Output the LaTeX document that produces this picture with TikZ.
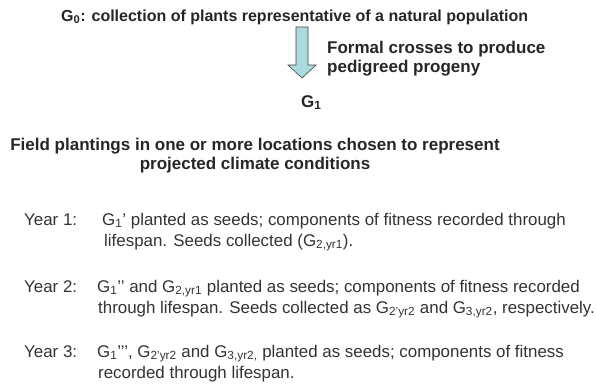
\documentclass[tikz,border=0pt]{standalone}
\usepackage{fontspec}
\setmainfont{Liberation Sans}
\usepackage{tikz}
\usetikzlibrary{positioning,calc}
\definecolor{arrowfill}{RGB}{170,220,222}
\definecolor{headtext}{RGB}{38,38,38}
\definecolor{bodytext}{RGB}{51,51,51}
\tikzset{
  head/.style={font=\fontsize{17}{20}\selectfont\bfseries, text=headtext,
    inner sep=0pt, anchor=base west},
  body/.style={font=\fontsize{16.9}{21}\selectfont, text=bodytext,
    inner sep=0pt, anchor=base west},
  blockarrow/.style={fill=arrowfill, draw=black!75, line width=0.6pt}
}
\newcommand{\gs}[1]{\textsubscript{#1}}
\begin{document}
\begin{tikzpicture}[x=1pt,y=-1pt]
  \useasboundingbox (0,0) rectangle (596,389);
  \node[head, font=\fontsize{16}{19}\selectfont\bfseries] (gzero) at (61,21)
    {G\gs{0}: collection of plants representative of a natural population};
  \coordinate (top) at (302,27);
  \coordinate (tip) at (302,78);
  \draw[blockarrow] ($(top)+(-6,0)$) -- ($(top)+(6,0)$) -- ($(tip)+(6,-13)$)
    -- ($(tip)+(14,-13)$) -- (tip) -- ($(tip)+(-14,-13)$)
    -- ($(tip)+(-6,-13)$) -- cycle;
  \node[head] (crossa) at (327,53) {Formal crosses to produce};
  \node[head] (crossb) at (327,72) {pedigreed progeny};
  \node[head] (gone) at (301,107) {G\gs{1}};
  \node[head, anchor=base] (fielda) at (255,150)
    {Field plantings in one or more locations chosen to represent};
  \node[head, anchor=base] (fieldb) at (255,169) {projected climate conditions};
  \node[body] (yone) at (24,225) {Year 1:};
  \node[body] (yonea) at (102,225)
    {G\gs{1}’ planted as seeds; components of fitness recorded through};
  \node[body] (yoneb) at (104,246) {lifespan. Seeds collected (G\gs{2,yr1}).};
  \node[body] (ytwo) at (24,292) {Year 2:};
  \node[body] (ytwoa) at (97,292)
    {G\gs{1}’’ and G\gs{2,yr1} planted as seeds; components of fitness recorded};
  \node[body] (ytwob) at (98,313)
    {through lifespan. Seeds collected as G\gs{2’yr2} and G\gs{3,yr2}, respectively.};
  \node[body] (ythree) at (24,357) {Year 3:};
  \node[body] (ythreea) at (97,357)
    {G\gs{1}’’’, G\gs{2’yr2} and G\gs{3,yr2,} planted as seeds; components of fitness};
  \node[body] (ythreeb) at (98,378) {recorded through lifespan.};
\end{tikzpicture}
\end{document}
